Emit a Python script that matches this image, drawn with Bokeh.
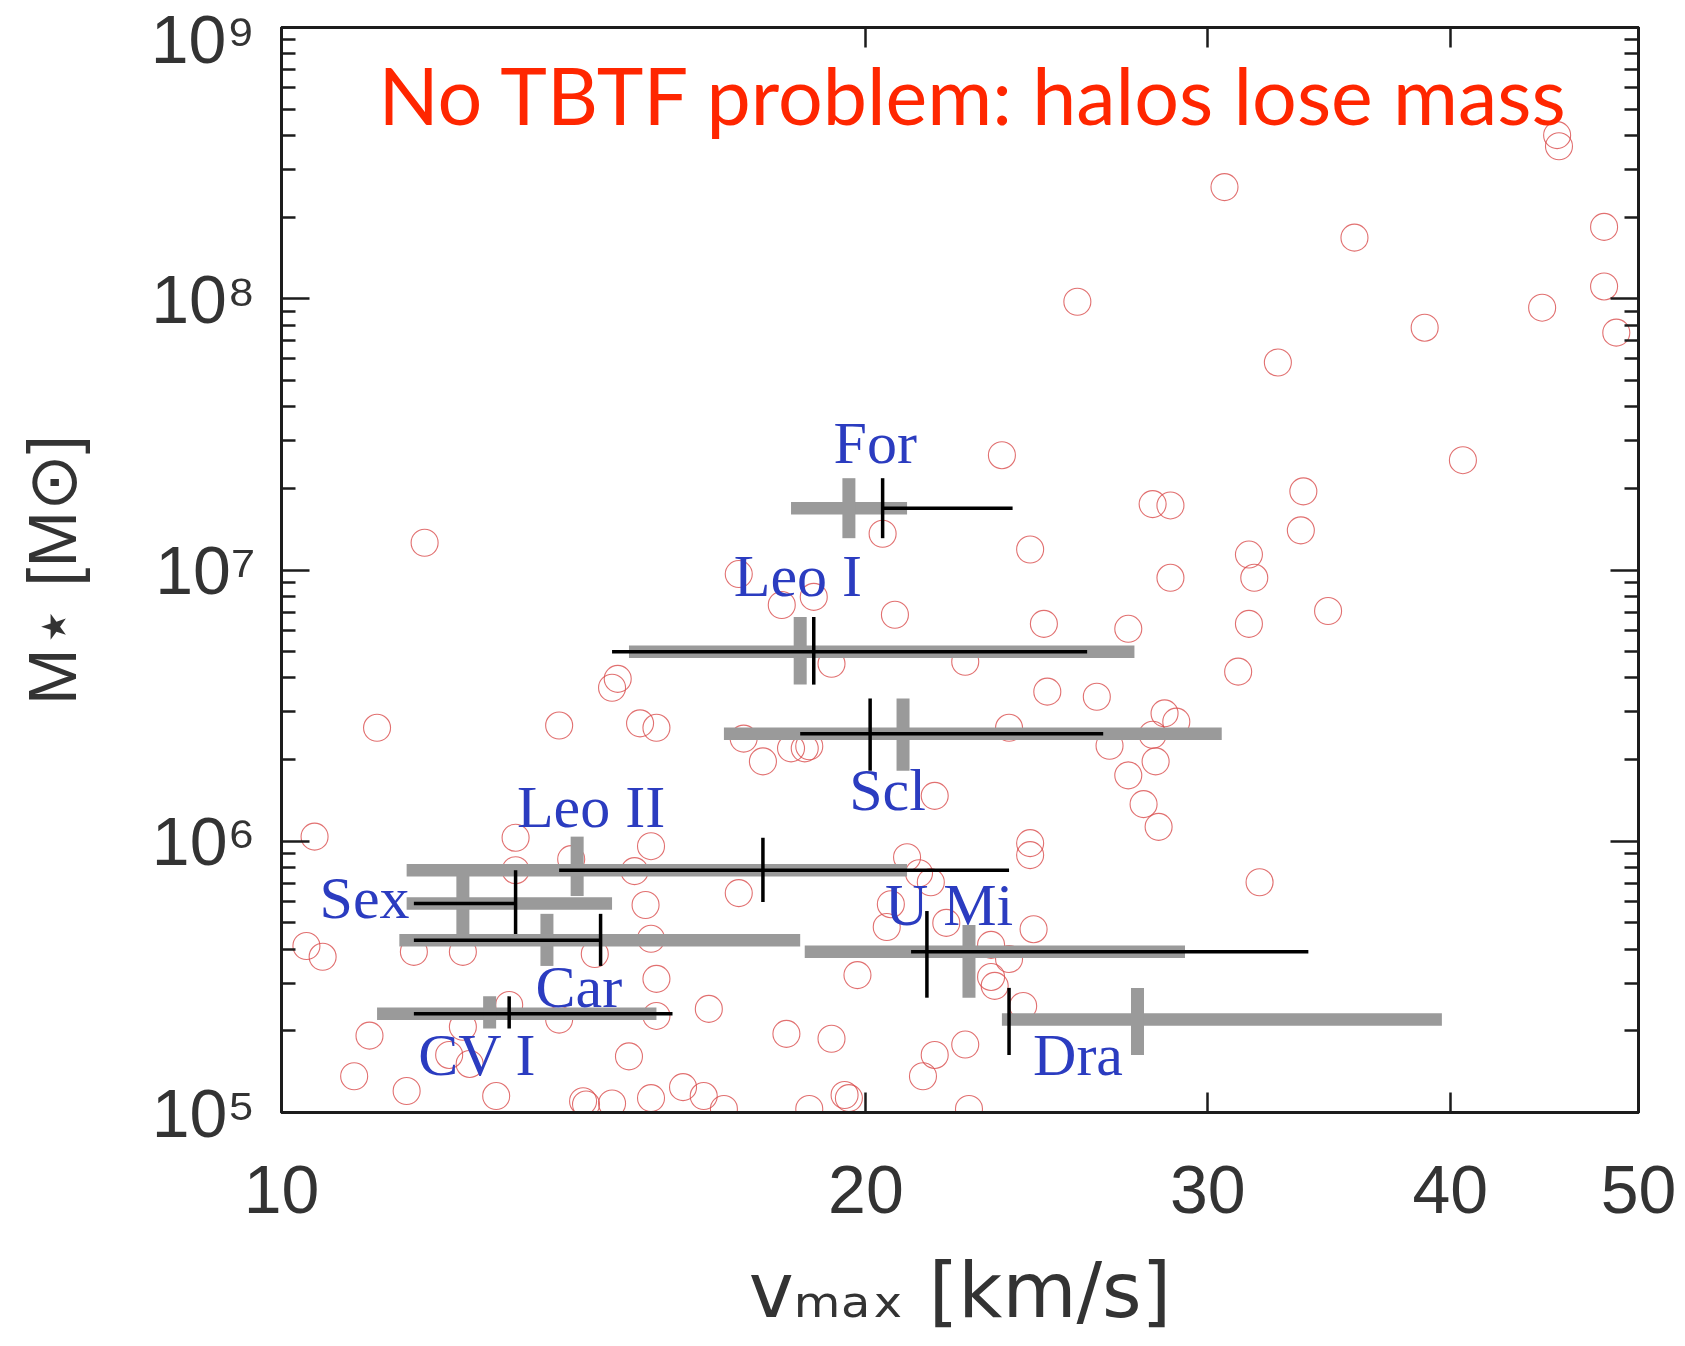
import numpy as np
from bokeh.plotting import figure
from bokeh.models import (FixedTicker, LogAxis, CustomJSTickFormatter, PrintfTickFormatter,
                          Label, ColumnDataSource, Range1d)
from bokeh.embed import file_html
from bokeh.resources import INLINE

# ---------------------------------------------------------------- data
# simulated subhaloes: maximum circular velocity [km/s] and stellar mass [Msun]
subhalo_vmax = [
    11.85, 25.7, 30.6, 35.7, 45.4, 45.5, 48.0, 48.0, 44.6, 38.8,
    48.7, 32.6, 40.6, 33.6, 33.5, 23.5, 28.1, 28.7, 20.4, 24.3,
    31.5, 31.7, 28.7, 34.6, 31.5, 31.1, 24.7, 27.3, 20.7, 18.1,
    18.8, 17.2, 19.2, 22.5, 24.8, 26.3, 28.5, 28.9, 23.7, 28.1,
    17.3, 17.7, 18.3, 18.6, 18.7, 26.7, 28.2, 27.3, 27.8, 28.3,
    21.7, 24.3, 24.3, 31.9, 14.8, 14.9, 11.2, 13.9, 15.3, 15.6,
    10.4, 13.2, 15.5, 14.1, 13.2, 15.2, 15.4, 17.2, 10.3, 10.5,
    11.7, 12.4, 14.5, 15.5, 15.6, 16.6, 15.6, 13.9, 13.1, 11.1,
    12.4, 12.2, 10.9, 11.6, 12.5, 15.1, 12.9, 14.3, 14.35, 14.8,
    15.5, 16.1, 16.5, 16.9, 21.0, 21.3, 21.6, 20.6, 20.5, 22.0,
    24.4, 23.2, 23.7, 23.2, 23.3, 19.8, 18.2, 19.2, 22.5, 21.7,
    21.4, 19.5, 19.6, 18.7, 22.6, 24.1,
]
subhalo_mstar = [
    1.26e7, 9.75e7, 2.58e8, 1.68e8, 4.01e8, 3.65e8, 1.84e8, 1.11e8, 9.27e7, 7.82e7,
    7.5e7, 5.82e7, 2.54e7, 1.95e7, 1.40e7, 2.65e7, 1.75e7, 1.73e7, 1.36e7, 1.19e7,
    1.14e7, 9.36e6, 9.36e6, 7.06e6, 6.33e6, 4.22e6, 6.33e6, 6.07e6, 6.84e6, 7.43e6,
    7.96e6, 9.66e6, 4.51e6, 4.59e6, 3.56e6, 3.41e6, 2.96e6, 2.76e6, 2.62e6, 2.47e6,
    2.39e6, 1.97e6, 2.20e6, 2.20e6, 2.24e6, 2.25e6, 1.97e6, 1.75e6, 1.37e6, 1.13e6,
    1.47e6, 9.84e5, 8.89e5, 7.06e5, 3.68e6, 3.97e6, 2.62e6, 2.67e6, 2.72e6, 2.62e6,
    1.04e6, 1.03e6, 9.59e5, 8.59e5, 7.82e5, 7.76e5, 5.82e5, 6.44e5, 4.11e5, 3.75e5,
    3.91e5, 3.91e5, 3.84e5, 4.37e5, 3.11e5, 2.41e5, 2.27e5, 2.20e5, 2.49e5, 1.92e5,
    2.07e5, 1.63e5, 1.36e5, 1.20e5, 1.51e5, 1.61e5, 1.15e5, 1.10e5, 1.07e5, 1.08e5,
    1.13e5, 1.24e5, 1.15e5, 1.03e5, 8.73e5, 7.62e5, 7.06e5, 5.86e5, 4.83e5, 5.0e5,
    4.74e5, 4.15e5, 3.68e5, 3.16e5, 2.93e5, 3.21e5, 1.95e5, 1.87e5, 1.78e5, 1.63e5,
    1.36e5, 1.16e5, 1.13e5, 1.03e5, 1.03e5, 2.47e5,
]

# Milky Way dwarf spheroidals
dwarf_names = ["For", "Leo I", "Scl", "Leo II", "Sex", "Car", "U Mi", "CV I", "Dra"]
dwarf_mstar = [1.69e7, 5.0e6, 2.49e6, 7.82e5, 5.89e5, 4.32e5, 3.91e5, 2.31e5, 2.2e5]

# grey estimate of vmax (central value and range) with stellar-mass range
grey_vmax = [19.6, 18.5, 20.9, 14.2, 12.4, 13.7, 22.6, 12.8, 27.6]
grey_vmax_lo = [18.3, 15.1, 16.9, 11.6, 11.6, 11.5, 18.6, 11.2, 23.5]
grey_vmax_hi = [21.0, 27.5, 30.5, 21.0, 14.8, 18.5, 29.2, 15.6, 39.6]
grey_mstar_lo = [1.31e7, 3.78e6, 1.82e6, 6.28e5, 4.40e5, 3.47e5, 2.65e5, 2.04e5, 1.63e5]
grey_mstar_hi = [2.18e7, 6.71e6, 3.36e6, 1.04e6, 7.62e5, 5.40e5, 4.91e5, 2.68e5, 2.88e5]

# black estimate of vmax (central value and range) with stellar-mass range
black_vmax = [20.4, 18.8, 20.1, 17.7, 13.2, 14.6, 21.5, 13.1, 23.7]
black_vmax_lo = [20.4, 14.8, 18.5, 13.9, 11.7, 11.7, 21.1, 11.7, 23.7]
black_vmax_hi = [23.8, 26.0, 26.5, 23.7, 13.2, 14.6, 33.8, 15.9, 23.7]
black_mstar_lo = [1.31e7, 3.78e6, 1.82e6, 5.97e5, 4.55e5, 3.47e5, 2.65e5, 2.04e5, 1.63e5]
black_mstar_hi = [2.18e7, 6.71e6, 3.36e6, 1.03e6, 7.82e5, 5.40e5, 5.53e5, 2.68e5, 2.88e5]

x_ticks = [10, 20, 30, 40, 50]
y_decades = [5, 6, 7, 8, 9]

# ---------------------------------------------------------------- layout
W, H = 1685, 1346
LEFT, RIGHT, TOP, BOTTOM = 281, 47, 27, 234
XMIN, XMAX = 10, 50
YMIN, YMAX = 1e5, 1e9

# name label offsets (screen px, up positive) from each dwarf's black central point
label_dx = [-49, -80, -21, -246, -196, -65, -42, -91, 24]
label_dy = [45, 56, -76, 43, -14, -67, 27, -61, -55]
NAME_LIFT = 20      # baseline correction for the serif name labels
TITLE_LIFT = 30     # baseline correction for the headline

INK = "#1c1c1c"
TICKTXT = "#333333"
GREY = "#9a9a9a"
BLUE = "#2b3cc0"
RED = "#ff2600"
CIRCLE = "#d94c4c"


def canvas_to_data(px, py):
    """Canvas pixel position -> data coordinates on the log/log frame."""
    fx = (px - LEFT) / (W - RIGHT - LEFT)
    fy = (H - BOTTOM - py) / (H - BOTTOM - TOP)
    lx = np.log10(XMIN) + fx * (np.log10(XMAX) - np.log10(XMIN))
    ly = np.log10(YMIN) + fy * (np.log10(YMAX) - np.log10(YMIN))
    return 10 ** lx, 10 ** ly


p = figure(width=W, height=H, x_axis_type="log", y_axis_type="log",
           x_range=Range1d(XMIN, XMAX), y_range=Range1d(YMIN, YMAX),
           output_backend="svg", toolbar_location=None,
           min_border_left=LEFT, min_border_right=RIGHT,
           min_border_top=TOP, min_border_bottom=BOTTOM)
p.background_fill_color = "white"
p.border_fill_color = "white"
p.grid.visible = False
p.outline_line_color = INK
p.outline_line_width = 3

y_minor = [m * 10 ** d for d in y_decades[:-1] for m in range(2, 10)]
blank = CustomJSTickFormatter(code="return ''")
decade_fmt = CustomJSTickFormatter(code="""
    const sup = {"0": "\u2070", "1": "\u00b9", "2": "\u00b2", "3": "\u00b3", "4": "\u2074",
                 "5": "\u2075", "6": "\u2076", "7": "\u2077", "8": "\u2078", "9": "\u2079"};
    const e = String(Math.round(Math.log10(tick)));
    return "10" + e.split("").map(c => sup[c]).join("");
""")


def style_y(ax, labels):
    ax.ticker = FixedTicker(ticks=[10.0 ** d for d in y_decades], minor_ticks=y_minor)
    ax.major_tick_in, ax.major_tick_out = 28, 0
    ax.minor_tick_in, ax.minor_tick_out = 14, 0
    ax.major_tick_line_width = 2.5
    ax.minor_tick_line_width = 2.5
    ax.major_tick_line_color = INK
    ax.minor_tick_line_color = INK
    ax.axis_line_color = INK
    ax.axis_line_width = 3
    if labels:
        ax.formatter = decade_fmt
        ax.major_label_text_font = "Liberation Sans"
        ax.major_label_text_font_size = "68px"
        ax.major_label_text_color = TICKTXT
        ax.major_label_standoff = 26
    else:
        ax.formatter = blank
        ax.major_label_text_font_size = "10px"


def style_x(ax, labels):
    ax.ticker = FixedTicker(ticks=x_ticks, minor_ticks=[])
    ax.major_tick_in, ax.major_tick_out = 20, 0
    ax.minor_tick_in, ax.minor_tick_out = 0, 0
    ax.major_tick_line_width = 2.5
    ax.major_tick_line_color = INK
    ax.axis_line_color = INK
    ax.axis_line_width = 3
    if labels:
        ax.formatter = PrintfTickFormatter(format="%d")
        ax.major_label_text_font = "Liberation Sans"
        ax.major_label_text_font_size = "68px"
        ax.major_label_text_color = TICKTXT
        ax.major_label_standoff = 53
    else:
        ax.formatter = blank
        ax.major_label_text_font_size = "10px"


xa = p.xaxis[0]
style_x(xa, True)
xa.axis_label = "v\u2098\u2090\u2093 [km/s]"
xa.axis_label_text_font = "DejaVu Sans"
xa.axis_label_text_font_style = "normal"
xa.axis_label_text_font_size = "76px"
xa.axis_label_text_color = TICKTXT
xa.axis_label_standoff = 30

ya = p.yaxis[0]
style_y(ya, True)
ya.axis_label = "M\u22c6 [M\u2299]"
ya.axis_label_text_font = "Liberation Sans"
ya.axis_label_text_font_style = "normal"
ya.axis_label_text_font_size = "68px"
ya.axis_label_text_color = TICKTXT
ya.axis_label_standoff = 58

top_axis = LogAxis()
style_x(top_axis, False)
p.add_layout(top_axis, "above")
right_axis = LogAxis()
style_y(right_axis, False)
p.add_layout(right_axis, "right")

# subhalo population
p.scatter(subhalo_vmax, subhalo_mstar, marker="circle", size=27,
          fill_color=None, line_color=CIRCLE, line_width=1.1, line_alpha=0.8)

# dwarf spheroidal estimates: thick grey bars under thin black bars
grey = ColumnDataSource(dict(v=grey_vmax, lo=grey_vmax_lo, hi=grey_vmax_hi,
                             m=dwarf_mstar, mlo=grey_mstar_lo, mhi=grey_mstar_hi))
black = ColumnDataSource(dict(v=black_vmax, lo=black_vmax_lo, hi=black_vmax_hi,
                              m=dwarf_mstar, mlo=black_mstar_lo, mhi=black_mstar_hi))
p.segment(x0="lo", y0="m", x1="hi", y1="m", source=grey,
          line_color=GREY, line_width=12.5, line_cap="butt")
p.segment(x0="v", y0="mlo", x1="v", y1="mhi", source=grey,
          line_color=GREY, line_width=13, line_cap="butt")
p.segment(x0="lo", y0="m", x1="hi", y1="m", source=black,
          line_color="black", line_width=3.5, line_cap="butt")
p.segment(x0="v", y0="mlo", x1="v", y1="mhi", source=black,
          line_color="black", line_width=3.5, line_cap="butt")

for name, v, m, dx, dy in zip(dwarf_names, black_vmax, dwarf_mstar, label_dx, label_dy):
    p.add_layout(Label(x=v, y=m, x_offset=dx, y_offset=dy + NAME_LIFT, text=name,
                       text_font="Liberation Serif", text_font_size="60px",
                       text_color=BLUE, text_align="left", text_baseline="alphabetic"))

# headline
tx, ty = canvas_to_data(378, 124)
p.add_layout(Label(x=tx, y=ty, y_offset=TITLE_LIFT, text="No TBTF problem: halos lose mass",
                   text_font="Lato", text_font_size="79px", text_color=RED,
                   text_align="left", text_baseline="alphabetic"))

open("out.html", "w").write(file_html(p, INLINE))
